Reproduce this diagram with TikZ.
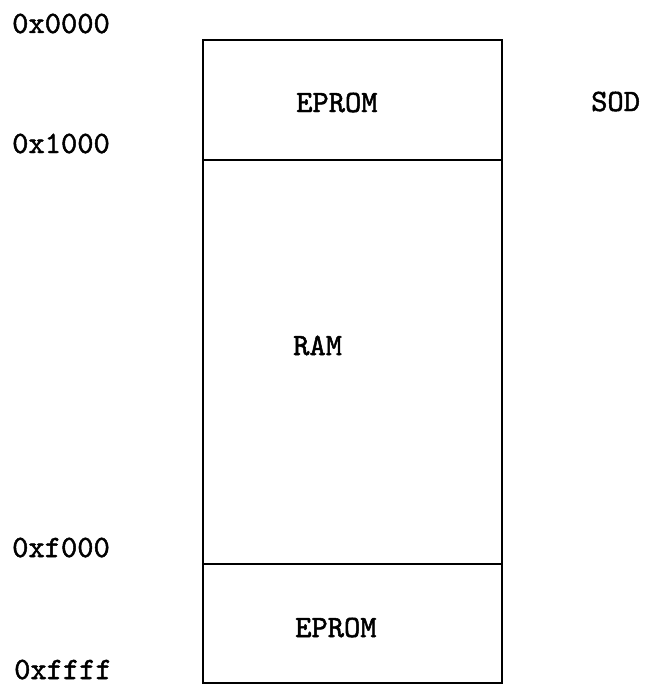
\documentclass[tikz,border=0pt]{standalone}
\usepackage{fontspec}
\newfontfamily\twfont{lmmono10-regular.otf}[FakeBold=1.6]
\begin{document}
\begin{tikzpicture}[x=1pt,y=-1pt,
  lbl/.style={anchor=base west,inner sep=0pt,font=\twfont\fontsize{31}{31}\selectfont},
  mem/.style={line width=2.8pt,line join=miter}]
\useasboundingbox (0,0) rectangle (645,685);
% memory blocks
\draw[mem] (203,40) rectangle (502,683);
\draw[mem] (203,160) -- (502,160);
\draw[mem] (203,564) -- (502,564);
% addresses
\node[lbl] (a0) at (12,33) {0x0000};
\node[lbl] (a1) at (12,153) {0x1000};
\node[lbl] (a2) at (12,557) {0xf000};
\node[lbl] (a3) at (14,679) {0xffff};
% block labels
\node[lbl] (e1) at (296,112) {EPROM};
\node[lbl] (ram) at (293,355) {RAM};
\node[lbl] (e2) at (295,637) {EPROM};
\node[lbl] (sod) at (591,111) {SOD};
\end{tikzpicture}
\end{document}
